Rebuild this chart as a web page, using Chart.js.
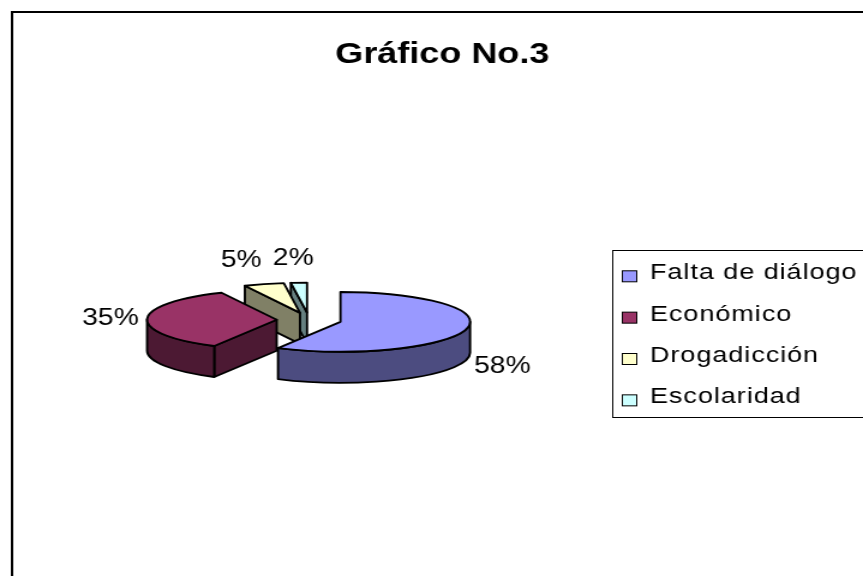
<!DOCTYPE html>
<html>
<head>
<meta charset="utf-8">
<script src="https://cdn.jsdelivr.net/npm/chart.js@4"></script>
<style>
  html, body { margin: 0; padding: 0; background: #fff; }
  canvas { display: block; }
</style>
</head>
<body>
<!-- the original picture is stretched sideways, so the canvas is drawn narrower and widened by css -->
<canvas id="myChart" width="719" height="576" style="width:863px;height:576px"></canvas>
<script>
var chartTitle = 'Gráfico No.3';
var labels = ['Falta de diálogo', 'Económico', 'Drogadicción', 'Escolaridad'];
var values = [58, 35, 5, 2];
var topColors = ['#9999FF', '#993366', '#FFFFCC', '#CCFFFF'];
var sideColors = ['#4C4C80', '#4C1933', '#808066', '#668080'];

var FONT = '"Liberation Sans", Arial, sans-serif';
var RADIUS = 108;     // horizontal radius of the pie top
var TILT = 0.277;     // vertical squash of the pie top
var DEPTH = 31;       // thickness of the pie
var EXPLODE = 27;     // distance each slice is pulled out

function centerY(chart) {
    return (chart.chartArea.top + chart.chartArea.bottom) / 2;
}

function squash(ctx, cy) {
    ctx.translate(0, cy);
    ctx.scale(1, TILT);
    ctx.translate(0, -cy);
}

function drawSides(ctx, arc, color, cy) {
    var r = arc.outerRadius;
    var ax = arc.x, ay = cy + (arc.y - cy) * TILT;
    ctx.fillStyle = color;
    // cut faces that turn towards the viewer
    [[arc.startAngle, arc.startAngle - Math.PI / 2], [arc.endAngle, arc.endAngle + Math.PI / 2]].forEach(function (f) {
        if (Math.sin(f[1]) < 0.05) return;
        var px = ax + r * Math.cos(f[0]), py = ay + r * TILT * Math.sin(f[0]);
        ctx.beginPath();
        ctx.moveTo(ax, ay);
        ctx.lineTo(px, py);
        ctx.lineTo(px, py + DEPTH);
        ctx.lineTo(ax, ay + DEPTH);
        ctx.closePath();
        ctx.fill();
        ctx.stroke();
    });
    // outer wall, front half only
    for (var k = 0; k <= 2 * Math.PI + 0.001; k += 2 * Math.PI) {
        var lo = Math.max(arc.startAngle, k), hi = Math.min(arc.endAngle, k + Math.PI);
        if (hi - lo < 0.001) continue;
        ctx.beginPath();
        ctx.ellipse(ax, ay, r, r * TILT, 0, lo, hi, false);
        ctx.ellipse(ax, ay + DEPTH, r, r * TILT, 0, hi, lo, true);
        ctx.closePath();
        ctx.fill();
        ctx.stroke();
    }
}

var pie3d = {
    id: 'pie3d',
    beforeDraw: function (chart) {
        var ctx = chart.ctx;
        ctx.save();
        ctx.fillStyle = '#fff';
        ctx.fillRect(0, 0, chart.width, chart.height);
        ctx.strokeStyle = '#000';
        ctx.lineWidth = 2;
        ctx.strokeRect(10, 12, chart.width + 20, chart.height + 20);
        ctx.restore();
    },
    afterDatasetUpdate: function (chart, args) {
        args.meta.data.forEach(function (arc) {
            var mid = (arc.startAngle + arc.endAngle) / 2;
            arc.x += Math.cos(mid) * EXPLODE;
            arc.y += Math.sin(mid) * EXPLODE;
        });
    },
    beforeDatasetsDraw: function (chart) {
        var ctx = chart.ctx, cy = centerY(chart);
        var arcs = chart.getDatasetMeta(0).data.map(function (a, i) { return {arc: a, i: i}; });
        arcs.sort(function (p, q) { return p.arc.y - q.arc.y; });
        ctx.save();
        ctx.strokeStyle = '#000';
        ctx.lineWidth = 1.9;
        ctx.lineJoin = 'round';
        arcs.forEach(function (p) { drawSides(ctx, p.arc, sideColors[p.i], cy); });
        ctx.restore();
        ctx.save();
        squash(ctx, cy);
    },
    afterDatasetsDraw: function (chart) {
        var ctx = chart.ctx, cy = centerY(chart);
        ctx.restore();
        ctx.save();
        ctx.strokeStyle = '#000';
        ctx.lineWidth = 1.9;
        ctx.lineJoin = 'round';
        chart.getDatasetMeta(0).data.forEach(function (arc) {
            ctx.beginPath();
            ctx.save();
            squash(ctx, cy);
            ctx.moveTo(arc.x, arc.y);
            ctx.arc(arc.x, arc.y, arc.outerRadius, arc.startAngle, arc.endAngle);
            ctx.closePath();
            ctx.restore();
            ctx.stroke();
        });
        ctx.restore();
    },
    afterDraw: function (chart) {
        var ctx = chart.ctx, cy = centerY(chart);
        var total = values.reduce(function (s, v) { return s + v; }, 0);
        ctx.save();
        ctx.fillStyle = '#000';

        // percentage labels around the pie
        ctx.font = '23.5px ' + FONT;
        ctx.textAlign = 'center';
        ctx.textBaseline = 'middle';
        chart.getDatasetMeta(0).data.forEach(function (arc, i) {
            var mid = (arc.startAngle + arc.endAngle) / 2;
            var c = Math.cos(mid), s = Math.sin(mid);
            var ax = arc.x, ay = cy + (arc.y - cy) * TILT;
            var txt = Math.round(values[i] / total * 100) + '%';
            var w = ctx.measureText(txt).width;
            var px = ax + (arc.outerRadius + 7) * c;
            var py = ay + (arc.outerRadius * TILT + 16) * s + (s > 0 ? DEPTH : 0);
            var fx = Math.max(-1, Math.min(1, c * 4));
            ctx.fillText(txt, px + fx * w / 2, py + s * 8.5);
        });

        // title
        ctx.font = 'bold 30px ' + FONT;
        ctx.textBaseline = 'alphabetic';
        ctx.fillText(chartTitle, 368.5, 63);

        // legend
        ctx.lineWidth = 1;
        ctx.strokeStyle = '#000';
        ctx.strokeRect(510.5, 250.5, 230, 167);
        ctx.font = '22.5px ' + FONT;
        ctx.textAlign = 'left';
        ctx.letterSpacing = '0.8px';
        labels.forEach(function (lab, i) {
            var base = 279.3 + i * 41.35;
            ctx.fillStyle = topColors[i];
            ctx.fillRect(518.5, base - 8.5, 12, 11);
            ctx.strokeRect(518.5, base - 8.5, 12, 11);
            ctx.fillStyle = '#000';
            ctx.fillText(lab, 541.5, base);
        });
        ctx.letterSpacing = '0px';
        ctx.restore();
    }
};

var ctx = document.getElementById('myChart').getContext('2d');
var myChart = new Chart(ctx, {
    type: 'pie',
    data: {
        labels: labels,
        datasets: [{
            data: values,
            backgroundColor: topColors,
            borderWidth: 0,
            hoverOffset: 0
        }]
    },
    options: {
        responsive: false,
        devicePixelRatio: 1,
        animation: false,
        events: [],
        radius: RADIUS,
        layout: {
            padding: { left: 10, right: 214, top: 80, bottom: 16 }
        },
        plugins: {
            legend: { display: false },
            title: { display: false },
            tooltip: { enabled: false }
        }
    },
    plugins: [pie3d]
});
</script>
</body>
</html>
